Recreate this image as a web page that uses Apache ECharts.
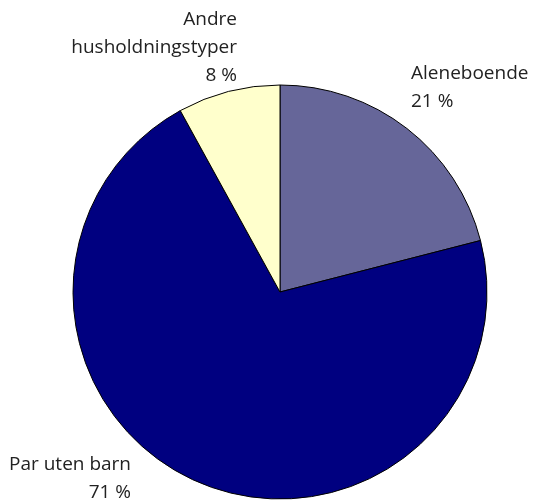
<!DOCTYPE html>
<html>
<head>
<meta charset="utf-8">
<script src="https://cdn.jsdelivr.net/npm/echarts@6/dist/echarts.min.js"></script>
<style>
  html, body { margin: 0; padding: 0; background: #fff; }
  #chart { width: 533px; height: 502px; }
</style>
</head>
<body>
<div id="chart"></div>
<script>
// kategorier og andeler (prosent)
const categories = ['Aleneboende', 'Par uten barn', 'Andre husholdningstyper']
const labelNames = ['Aleneboende', 'Par uten barn', 'Andre\nhusholdningstyper']
const shares = [21, 71, 8]
const colors = ['#666699', '#000080', '#FFFFCC']

// plassering av etikettene
const labelPos = [
    { x: 411, y: 88, align: 'left' },
    { x: 131, y: 479, align: 'right' },
    { x: 237, y: 48, align: 'right' }
]

const chart = echarts.init(document.getElementById('chart'))

chart.setOption({
    animation: false,
    series: [
        {
            type: 'pie',
            center: [280, 292],
            radius: 207,
            startAngle: 90,
            clockwise: true,
            data: categories.map((name, i) => ({
                name: name,
                value: shares[i],
                itemStyle: { color: colors[i] }
            })),
            itemStyle: {
                borderColor: '#000',
                borderWidth: 1
            },
            label: {
                show: true,
                formatter: p => labelNames[p.dataIndex] + '\n' + p.value + ' %',
                fontFamily: 'Open Sans',
                fontSize: 19,
                lineHeight: 28,
                color: '#222',
                overflow: 'none',
                width: 200
            },
            labelLine: { show: false },
            labelLayout: p => ({
                x: labelPos[p.dataIndex].x,
                y: labelPos[p.dataIndex].y,
                align: labelPos[p.dataIndex].align,
                verticalAlign: 'middle'
            }),
            emphasis: { disabled: true }
        }
    ]
})
</script>
</body>
</html>
